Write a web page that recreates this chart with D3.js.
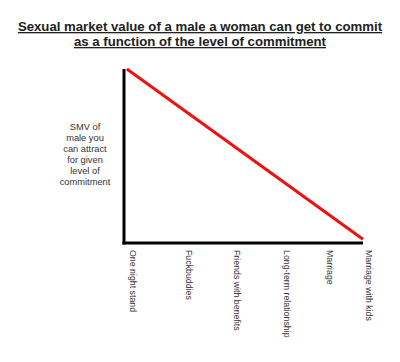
<!DOCTYPE html>
<html>
<head>
<meta charset="utf-8">
<script src="https://cdnjs.cloudflare.com/ajax/libs/d3/7.8.5/d3.min.js"></script>
<style>
	body{margin:0;background:#fff;}
	svg text{font-family:"Liberation Sans",Arial,sans-serif;fill:#222;}
</style>
</head>
<body>
<svg id="chart" width="400" height="362"></svg>
<script>
const titleLines = ['Sexual market value of a male a woman can get to commit', 'as a function of the level of commitment'];
const yLabelLines = ['SMV of', 'male you', 'can attract', 'for given', 'level of', 'commitment'];
const categories = ['One night stand', 'Fuckbuddies', 'Friends with benefits', 'Long-term relationship', 'Marriage', 'Marriage with kids'];
// where each category sits along the commitment axis
const commitment = [0.03, 1.2, 2.22, 3.28, 4.18, 5.0];
const smvLine = [{c: 0.06, v: 10}, {c: 5.05, v: 0.22}];

const svg = d3.select('#chart'),
	margin = {top: 69, right: 37, bottom: 119, left: 124},
	width = 400 - margin.left - margin.right,
	height = 362 - margin.top - margin.bottom;

const x = d3.scaleLinear().domain([0, 5.05]).range([0, width]);
const y = d3.scaleLinear().domain([0, 10]).range([height, 0]);

// title
const title = svg.append('text')
	.attr('text-anchor', 'middle')
	.style('font-weight', 'bold')
	.style('font-size', '13.2px')
	.style('text-decoration', 'underline');
titleLines.forEach((t, i) => {
	title.append('tspan').attr('x', 200).attr('y', 31 + i * 15).text(t);
});

const g = svg.append('g')
	.attr('transform', 'translate(' + margin.left + ',' + margin.top + ')');

// y label
const yl = g.append('text')
	.attr('text-anchor', 'middle')
	.style('font-size', '9.3px')
	.style('fill', '#333');
yLabelLines.forEach((t, i) => {
	yl.append('tspan').attr('x', -39).attr('y', 61 + i * 10.9).text(t);
});

// axes
g.append('line')
	.attr('x1', 0).attr('x2', 0)
	.attr('y1', y(10)).attr('y2', y(0) + 1.5)
	.attr('stroke', '#000').attr('stroke-width', 3);
g.append('line')
	.attr('x1', -1.5).attr('x2', x(5.05))
	.attr('y1', y(0)).attr('y2', y(0))
	.attr('stroke', '#000').attr('stroke-width', 3);

// category labels
g.selectAll('.cat')
	.data(categories)
	.enter().append('text')
	.attr('class', 'cat')
	.attr('transform', (d, i) => 'translate(' + (x(commitment[i]) + 5) + ',' + (height + 7) + ') rotate(90)')
	.style('font-size', '8.8px')
	.style('fill', '#333')
	.text(d => d);

// the line
const line = d3.line().x(d => x(d.c)).y(d => y(d.v));
g.append('path')
	.datum(smvLine)
	.attr('d', line)
	.attr('fill', 'none')
	.attr('stroke', '#ee1111')
	.attr('stroke-width', 3);
</script>
</body>
</html>
